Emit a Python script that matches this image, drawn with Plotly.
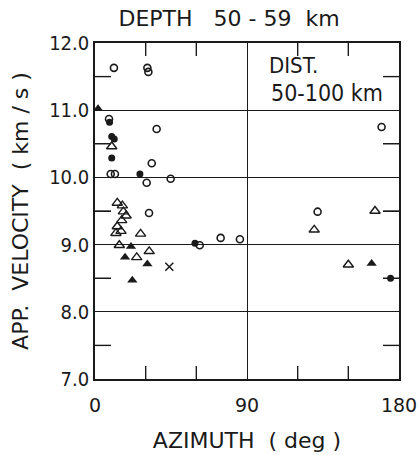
import plotly.graph_objects as go

# Data (azimuth deg, apparent velocity km/s)
open_circle_az = [11.2, 31.0, 31.6, 8.3, 36.5, 33.6, 9.3, 11.8, 30.6, 44.8, 32.0, 62.0, 74.4, 85.8, 131.8, 169.7]
open_circle_v = [11.63, 11.63, 11.57, 10.87, 10.72, 10.21, 10.05, 10.05, 9.92, 9.98, 9.47, 8.99, 9.10, 9.08, 9.49, 10.75]

filled_circle_az = [8.6, 9.9, 11.4, 9.9, 26.6, 59.2, 175.0]
filled_circle_v = [10.82, 10.61, 10.57, 10.29, 10.05, 9.02, 8.50]

open_tri_az = [9.9, 13.2, 16.2, 16.8, 18.4, 15.8, 13.2, 15.4, 12.4, 27.0, 14.4, 32.1, 24.7, 129.8, 165.8, 150.0]
open_tri_v = [10.46, 9.62, 9.58, 9.49, 9.43, 9.36, 9.27, 9.20, 9.17, 9.16, 8.99, 8.90, 8.81, 9.22, 9.50, 8.70]

filled_tri_az = [1.8, 21.3, 17.8, 31.0, 22.1, 163.8]
filled_tri_v = [11.02, 8.97, 8.81, 8.71, 8.47, 8.72]

cross_az = [44.0]
cross_v = [8.67]

x_range = [0, 180]
y_range = [7, 12]
x_ticks = [0, 30, 60, 90, 120, 150, 180]
x_tick_text = ["0", "", "", "90", "", "", "180"]
y_ticks = [7, 7.5, 8, 8.5, 9, 9.5, 10, 10.5, 11, 11.5, 12]
y_tick_text = ["7.0", "", "8.0", "", "9.0", "", "10.0", "", "11.0", "", "12.0"]
x_grid = [90]
y_grid = [8, 9, 10, 11]
x_minor = [30, 60, 120, 150]
y_minor = [7.5, 8.5, 9.5, 10.5, 11.5]

INK = "#1a1a1a"
PLOT_W, PLOT_H = 304, 336
XTICK_LEN, YTICK_LEN = 13, 16

fig = go.Figure()

def add(xs, ys, symbol, size, lw):
    fig.add_trace(go.Scatter(
        x=xs, y=ys, mode="markers", cliponaxis=False,
        marker=dict(symbol=symbol, size=size, color=INK,
                    line=dict(color=INK, width=lw)),
        showlegend=False, hoverinfo="skip"))

# inward tick marks drawn as short line segments; lengths converted from pixels via the axis scales
dy = XTICK_LEN * (y_range[1] - y_range[0]) / PLOT_H
dx = YTICK_LEN * (x_range[1] - x_range[0]) / PLOT_W
tx, ty = [], []
for v in x_minor:
    tx += [v, v, None, v, v, None]
    ty += [y_range[0], y_range[0] + dy, None, y_range[1], y_range[1] - dy, None]
for v in y_minor:
    tx += [x_range[0], x_range[0] + dx, None, x_range[1], x_range[1] - dx, None]
    ty += [v, v, None, v, v, None]
fig.add_trace(go.Scatter(x=tx, y=ty, mode="lines", line=dict(color=INK, width=1.4),
                         connectgaps=False, showlegend=False, hoverinfo="skip"))

add(open_circle_az, open_circle_v, "circle-open", 7, 1.6)
add(filled_circle_az, filled_circle_v, "circle", 7, 0)
add(open_tri_az, open_tri_v, "triangle-up-open", 9, 1.4)
add(filled_tri_az, filled_tri_v, "triangle-up", 9, 0)
add(cross_az, cross_v, "x-thin-open", 8, 1.5)

font_narrow = "Liberation Sans Narrow, DejaVu Sans Condensed, Liberation Sans, sans-serif"

fig.update_layout(
    width=418, height=455,
    margin=dict(l=95, r=19, t=43, b=76),
    paper_bgcolor="white", plot_bgcolor="white",
    title=dict(text="DEPTH   50 - 59  km", x=0.548, xanchor="center", y=0.96, yanchor="middle",
               automargin=False,
               font=dict(family="DejaVu Sans", size=22, color=INK)),
    xaxis=dict(range=x_range, tickvals=x_ticks, ticktext=x_tick_text,
               automargin=False, ticks="inside", ticklen=XTICK_LEN, tickwidth=1.3, tickcolor=INK,
               showgrid=False, zeroline=False,
               showline=True, linecolor=INK, linewidth=1.6, mirror="allticks",
               ticklabelstandoff=8,
               tickfont=dict(family="DejaVu Sans", size=19, color=INK),
               title=dict(text="AZIMUTH  ( deg )", standoff=18,
                          font=dict(family="DejaVu Sans", size=22, color=INK))),
    yaxis=dict(range=y_range, tickvals=y_ticks, ticktext=y_tick_text,
               automargin=False, ticks="inside", ticklen=YTICK_LEN, tickwidth=1.3, tickcolor=INK,
               showgrid=False, zeroline=False,
               showline=True, linecolor=INK, linewidth=1.6, mirror="allticks",
               tickfont=dict(family=font_narrow, size=20, color=INK),
               title=dict(text="APP.  VELOCITY  ( km / s )", standoff=14,
                          font=dict(family="DejaVu Sans", size=22, color=INK))),
    xaxis2=dict(range=x_range, overlaying="x", tickvals=x_grid, showticklabels=False, ticks="",
                showgrid=True, gridcolor=INK, gridwidth=1, showline=False, zeroline=False, automargin=False),
    yaxis2=dict(range=y_range, overlaying="y", tickvals=y_grid, showticklabels=False, ticks="",
                showgrid=True, gridcolor=INK, gridwidth=1, showline=False, zeroline=False, automargin=False),
    annotations=[
        dict(text="DIST.", x=0.566, y=0.89, xref="paper", yref="paper",
             xanchor="left", yanchor="bottom", showarrow=False,
             font=dict(family=font_narrow, size=22, color=INK)),
        dict(text="50-100 km", x=0.573, y=0.895, xref="paper", yref="paper",
             xanchor="left", yanchor="top", showarrow=False,
             font=dict(family=font_narrow, size=23, color=INK)),
    ],
)

fig.add_trace(go.Scatter(x=[], y=[], xaxis="x2", yaxis="y2", showlegend=False, hoverinfo="skip"))

fig.write_html("out.html")
